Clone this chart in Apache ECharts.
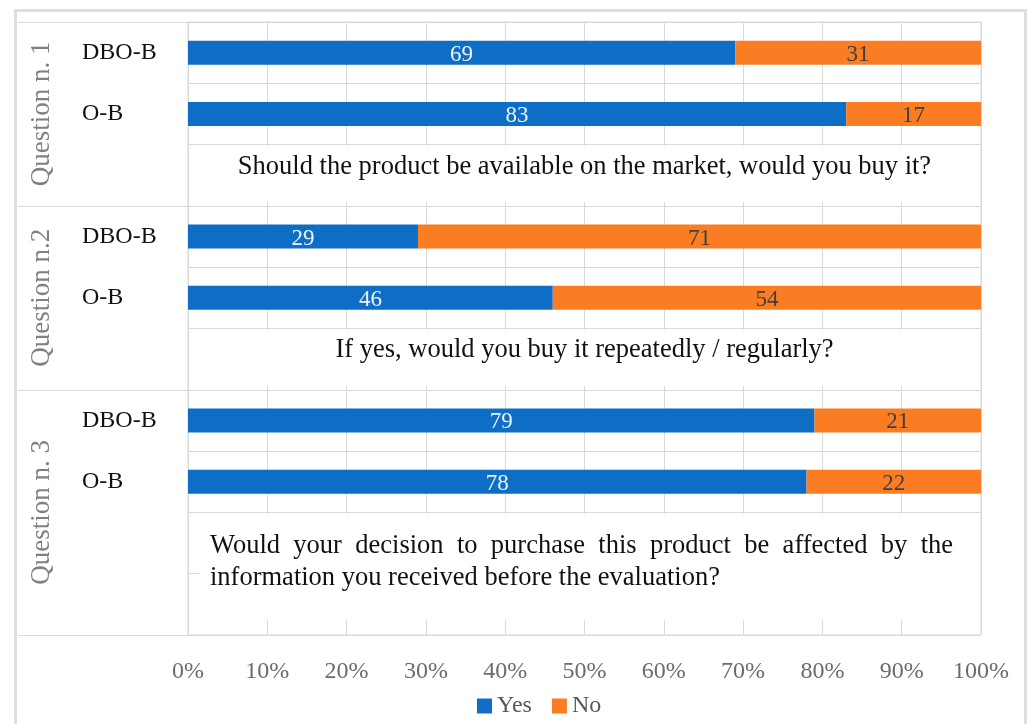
<!DOCTYPE html>
<html>
<head>
<meta charset="utf-8">
<script src="https://cdn.jsdelivr.net/npm/echarts@6/dist/echarts.min.js"></script>
<style>
  html, body { margin: 0; padding: 0; background: #ffffff; }
  #chart { width: 1030px; height: 724px; }
</style>
</head>
<body>
<div id="chart"></div>
<script>
// Survey answers (% of respondents), one pair of groups per question
const groupLabels = ['DBO-B', 'O-B'];
const questionTitles = ['Question n. 1', 'Question n.2', 'Question n. 3'];
const questionTexts = [
  'Should the product be available on the market, would you buy it?',
  'If yes, would you buy it repeatedly / regularly?',
  'Would your decision to purchase this product be affected by the information you received before the evaluation?'
];
// order: Q1 DBO-B, Q1 O-B, Q2 DBO-B, Q2 O-B, Q3 DBO-B, Q3 O-B
const yesShare = [69, 83, 29, 46, 79, 78];
const noShare = [31, 17, 71, 54, 21, 22];
// rows in each question block (two bars + space for the question text)
const rowsPerPanel = [3, 3, 4];
const seriesNames = ['Yes', 'No'];

const W = 1030, H = 724;
const GRID = { left: 188, right: 49, top: 22, bottom: 89 };
const FONT = '"Liberation Serif", "DejaVu Serif", serif';
const BLUE = '#0e6ec5', ORANGE = '#fa7d24', LINE = '#d9d9d9';
const Q_FONT = '26.5px ' + FONT;

// build the category rows
const rowKeys = [], yesRows = [], noRows = [];
let k = 0;
rowsPerPanel.forEach((n, p) => {
  for (let r = 0; r < n; r++) {
    if (r < groupLabels.length) {
      rowKeys.push(p + '|' + groupLabels[r]);
      yesRows.push(yesShare[k]);
      noRows.push(noShare[k]);
      k++;
    } else {
      rowKeys.push(p + '|' + r + '|');
      yesRows.push('-');
      noRows.push('-');
    }
  }
});
const totalRows = rowKeys.length;
const plotH = H - GRID.top - GRID.bottom;
const rowH = plotH / totalRows;
const plotL = GRID.left, plotR = W - GRID.right;
const rowTop = i => GRID.top + i * rowH;

// frame, block separators, question titles and question texts
const graphics = [];
graphics.push({
  type: 'rect', z: 0, silent: true,
  shape: { x: 15.5, y: 10.5, width: 1010, height: 730 },
  style: { fill: 'none', stroke: '#dedede', lineWidth: 3 }
});
let start = 0;
const panelBounds = [];
rowsPerPanel.forEach(n => { panelBounds.push([start, start + n]); start += n; });
const hLines = [0].concat(panelBounds.map(b => b[1]));
hLines.forEach(i => {
  const y = Math.round(rowTop(i)) + 0.5;
  graphics.push({
    type: 'line', z: 1, silent: true,
    shape: { x1: 18, y1: y, x2: plotL, y2: y },
    style: { stroke: LINE, lineWidth: 1 }
  });
});
panelBounds.forEach((b, p) => {
  const cy = (rowTop(b[0]) + rowTop(b[1])) / 2;
  graphics.push({
    type: 'text', z: 10, silent: true,
    x: 42, y: cy, rotation: Math.PI / 2,
    style: {
      text: questionTitles[p], fill: '#808080', font: '27px ' + FONT,
      align: 'center', verticalAlign: 'middle'
    }
  });
});

// single-line question boxes
[0, 1].forEach(p => {
  const r = panelBounds[p][0] + groupLabels.length;
  graphics.push({
    type: 'rect', z: 8, silent: true,
    shape: { x: plotL + 1, y: rowTop(r) + 1.5, width: plotR - plotL - 2, height: 56 },
    style: { fill: '#ffffff' }
  });
  graphics.push({
    type: 'text', z: 10, silent: true,
    x: (plotL + plotR) / 2, y: rowTop(r) + 22,
    style: {
      text: questionTexts[p], fill: '#111111', font: Q_FONT,
      align: 'center', verticalAlign: 'middle'
    }
  });
});

// justified two-line question box for the last block
(function () {
  const r = panelBounds[2][0] + groupLabels.length;
  const x0 = 210, x1 = 953;
  graphics.push({
    type: 'rect', z: 8, silent: true,
    shape: { x: 200, y: rowTop(r) + 1.5, width: plotR - 201, height: 106 },
    style: { fill: '#ffffff' }
  });
  const words = questionTexts[2].split(' ');
  const firstLine = words.slice(0, 11);
  const secondLine = words.slice(11).join(' ');
  const ctx = document.createElement('canvas').getContext('2d');
  ctx.font = Q_FONT;
  const widths = firstLine.map(w => ctx.measureText(w).width);
  const sum = widths.reduce((a, b) => a + b, 0);
  const gap = (x1 - x0 - sum) / (firstLine.length - 1);
  let x = x0;
  firstLine.forEach((w, i) => {
    graphics.push({
      type: 'text', z: 10, silent: true, x: x, y: rowTop(r) + 34,
      style: { text: w, fill: '#111111', font: Q_FONT, align: 'left', verticalAlign: 'middle' }
    });
    x += widths[i] + gap;
  });
  graphics.push({
    type: 'text', z: 10, silent: true, x: x0, y: rowTop(r) + 66,
    style: { text: secondLine, fill: '#111111', font: Q_FONT, align: 'left', verticalAlign: 'middle' }
  });
})();

const chart = echarts.init(document.getElementById('chart'), null, { renderer: 'canvas' });
chart.setOption({
  animation: false,
  backgroundColor: '#ffffff',
  textStyle: { fontFamily: FONT },
  grid: {
    left: GRID.left, right: GRID.right, top: GRID.top, bottom: GRID.bottom,
    show: true, borderColor: LINE, borderWidth: 1, containLabel: false
  },
  legend: {
    data: seriesNames,
    left: 472, top: 689,
    icon: 'rect', itemWidth: 15, itemHeight: 15, itemGap: 20,
    textStyle: { color: '#595959', fontSize: 24, fontFamily: FONT }
  },
  xAxis: {
    type: 'value', min: 0, max: 100, interval: 10,
    axisLine: { show: false }, axisTick: { show: false },
    splitLine: { show: true, lineStyle: { color: LINE, width: 1 } },
    axisLabel: {
      formatter: '{value}%', color: '#6b6b6b', fontSize: 24, fontFamily: FONT, margin: 25
    }
  },
  yAxis: {
    type: 'category', inverse: true, data: rowKeys, boundaryGap: true,
    axisLine: { show: true, lineStyle: { color: LINE } },
    axisTick: { show: false },
    splitLine: { show: true, interval: 0, lineStyle: { color: LINE, width: 1 } },
    axisLabel: {
      interval: 0, align: 'left', margin: 106, color: '#111111', fontSize: 24, fontFamily: FONT,
      padding: [0, 0, 17, 0],
      formatter: v => { const parts = v.split('|'); return parts.length === 2 ? parts[1] : ''; }
    }
  },
  series: [
    {
      name: seriesNames[0], type: 'bar', stack: 'share', data: yesRows, barWidth: 24,
      itemStyle: { color: BLUE },
      label: { show: true, position: 'inside', color: '#eef3fb', fontSize: 23, fontFamily: FONT, offset: [0, 2] }
    },
    {
      name: seriesNames[1], type: 'bar', stack: 'share', data: noRows, barWidth: 24,
      itemStyle: { color: ORANGE },
      label: { show: true, position: 'inside', color: '#3f3f3f', fontSize: 23, fontFamily: FONT, offset: [0, 2] }
    }
  ],
  graphic: graphics
});
</script>
</body>
</html>
